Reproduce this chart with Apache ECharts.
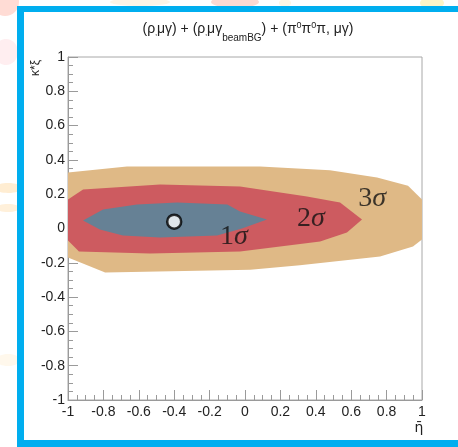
<!DOCTYPE html>
<html><head><meta charset="utf-8">
<script src="https://cdn.jsdelivr.net/npm/echarts@6/dist/echarts.min.js"></script>
<style>html,body{margin:0;padding:0;background:#fff}#c{width:458px;height:447px}</style>
</head><body><div id="c"></div>
<script>
// ---- data (data coordinates) ----
const xTicks = [-1, -0.8, -0.6, -0.4, -0.2, 0, 0.2, 0.4, 0.6, 0.8, 1];
const yTicks = [-1, -0.8, -0.6, -0.4, -0.2, 0, 0.2, 0.4, 0.6, 0.8, 1];
const sigma3 = [[-1,0.326],[-0.667,0.361],[0.085,0.361],[0.48,0.34],[0.746,0.297],[0.921,0.25],[1.0,0.169],
  [1.0,-0.064],[0.949,-0.105],[0.763,-0.163],[0.31,-0.215],[0.03,-0.24],[-0.79,-0.256],[-1,-0.169]];
const sigma2 = [[-1,0.169],[-0.915,0.227],[-0.48,0.256],[-0.028,0.245],[0.35,0.186],[0.537,0.152],[0.661,0.052],
  [0.576,-0.023],[0.424,-0.076],[-0.028,-0.134],[-0.537,-0.146],[-0.938,-0.134],[-1,-0.07]];
const sigma1 = [[-0.915,0.047],[-0.802,0.111],[-0.61,0.14],[-0.384,0.152],[-0.1,0.14],[-0.028,0.099],[0.124,0.052],
  [-0.017,0.0],[-0.158,-0.041],[-0.48,-0.052],[-0.69,-0.041],[-0.82,-0.006]];
const bestFit = [[-0.4, 0.04]];
const sigmaLabels = [[-0.062,-0.047,'1'],[0.373,0.058,'2'],[0.718,0.175,'3']];
const titleText = '(ρ{s|‚}μγ) + (ρ{s|‚}μγ{sub|beamBG}) + (π{sup|0}π{sup|0}π, μγ)';
const xName = 'η̄';
const yName = 'κ*ξ';

const chart = echarts.init(document.getElementById('c'), null, {renderer:'canvas'});
function poly(points, fill){
  return {
    type:'custom', coordinateSystem:'cartesian2d', data:[points[0]], silent:true, z:2,
    renderItem:(params, api)=>({type:'polygon', shape:{points: points.map(p=>api.coord(p))}, style:{fill:fill}})
  };
}
const axisCommon = {
  min:-1, max:1, interval:0.2,
  axisLine:{show:true, onZero:false, lineStyle:{color:'#9a9a9a', width:1}},
  axisTick:{show:true, inside:true, length:10, lineStyle:{color:'#9a9a9a'}},
  minorTick:{show:true, splitNumber:4, length:5, lineStyle:{color:'#9a9a9a'}},
  splitLine:{show:false},
  axisLabel:{color:'#222', fontFamily:'Liberation Sans', fontSize:14}
};
const tf = 'Liberation Sans';
chart.setOption({
  animation:false,
  backgroundColor:'#fff',
  title:{
    text:titleText, left:243, top:14, textAlign:'center',
    textStyle:{fontFamily:tf, fontSize:14, fontWeight:'normal', color:'#222', lineHeight:20, verticalAlign:'middle',
      rich:{
        s:{fontSize:8, fontFamily:tf, color:'#222', verticalAlign:'middle', padding:[7,0,0,0]},
        sub:{fontSize:10, fontFamily:tf, color:'#222', verticalAlign:'middle', padding:[18,0,0,0]},
        sup:{fontSize:9, fontFamily:tf, color:'#222', verticalAlign:'middle', padding:[0,0,7,0]}
      }}
  },
  grid:{left:68, top:57, width:354, height:343, show:true, borderColor:'#a8a8a8', borderWidth:1, backgroundColor:'transparent'},
  xAxis:Object.assign({}, axisCommon, {type:'value', axisLabel:Object.assign({}, axisCommon.axisLabel,{margin:5, showMinLabel:true, showMaxLabel:true})}),
  yAxis:Object.assign({}, axisCommon, {type:'value', axisLabel:Object.assign({}, axisCommon.axisLabel,{margin:3, showMinLabel:true, showMaxLabel:true})}),
  series:[
    poly(sigma3, '#dfb986'),
    poly(sigma2, '#cd5b60'),
    poly(sigma1, '#668195'),
    {type:'scatter', data:bestFit, symbol:'circle', symbolSize:14, z:5,
      itemStyle:{color:'#fff', borderColor:'#000', borderWidth:2.5}},
    {type:'scatter', data:sigmaLabels, symbolSize:0, z:6, silent:true,
      label:{show:true, position:'inside', formatter:p=>p.data[2]+'{i|σ}',
        fontFamily:'Liberation Serif', fontSize:28, color:'#111',
        rich:{i:{fontFamily:'Liberation Serif', fontStyle:'italic', fontSize:28, color:'#111'}}}}
  ],
  graphic:[
    // faint slide background decorations outside the frame
    {type:'circle', shape:{cx:5, cy:2, r:14}, style:{fill:'#ffdcd5'}, z:-10},
    {type:'ellipse', shape:{cx:6, cy:52, rx:12, ry:13}, style:{fill:'#ffeef0'}, z:-10},
    {type:'ellipse', shape:{cx:8, cy:188, rx:14, ry:5}, style:{fill:'#ffedd2'}, z:-10},
    {type:'ellipse', shape:{cx:8, cy:208, rx:12, ry:4}, style:{fill:'#fff0da'}, z:-10},
    {type:'ellipse', shape:{cx:8, cy:360, rx:12, ry:6}, style:{fill:'#fff8ec'}, z:-10},
    {type:'ellipse', shape:{cx:235, cy:2, rx:24, ry:6}, style:{fill:'#ffd9d2'}, z:-10},
    {type:'ellipse', shape:{cx:140, cy:2, rx:30, ry:4}, style:{fill:'#fff4e6'}, z:-10},
    {type:'ellipse', shape:{cx:432, cy:3, rx:12, ry:6}, style:{fill:'#fff6c8'}, z:-10},
    {type:'ellipse', shape:{cx:285, cy:3, rx:6, ry:4}, style:{fill:'#fff6e4'}, z:-10},
    // blue frame
    {type:'rect', shape:{x:17, y:6, width:441, height:6}, style:{fill:'#00aeef'}, z:20},
    {type:'rect', shape:{x:17, y:6, width:7, height:441}, style:{fill:'#00aeef'}, z:20},
    {type:'rect', shape:{x:17, y:440, width:441, height:7}, style:{fill:'#00aeef'}, z:20},
    {type:'rect', shape:{x:24, y:12, width:434, height:428}, style:{fill:'#fff'}, z:-5},
    // axis names
    {type:'text', x:36, y:76, rotation:Math.PI/2, style:{text:yName, font:'12px "Liberation Sans"', fill:'#222', align:'left', verticalAlign:'middle'}, z:10},
    {type:'text', x:419, y:428, style:{text:xName, font:'14px "DejaVu Sans"', fill:'#222', align:'center', verticalAlign:'middle'}, z:10}
  ]
});
</script></body></html>
